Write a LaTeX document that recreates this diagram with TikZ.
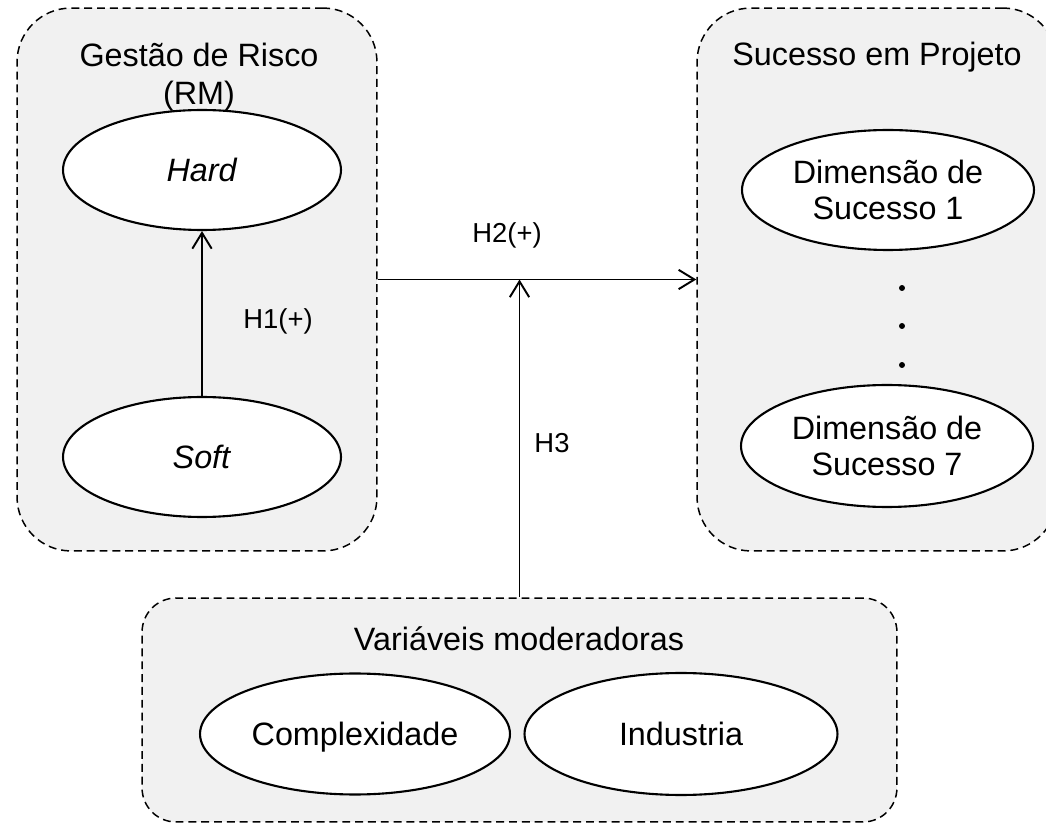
\documentclass[tikz,border=0pt]{standalone}
\usepackage{fontspec}
\setmainfont{Liberation Sans}
\usetikzlibrary{shapes.geometric,arrows.meta}
\definecolor{boxgray}{RGB}{241,241,241}

\begin{document}
\begin{tikzpicture}[x=0.02cm, y=0.02cm]
\tikzstyle{every node}+=[inner sep=0pt]
\tikzstyle{grupo}=[draw, dash pattern=on 4.5pt off 2.8pt, line width=0.85pt, fill=boxgray, rounded corners=1.08cm]
\tikzstyle{construto}=[draw, ellipse, fill=white, line width=1.2pt, font=\fontsize{18.4}{20}\selectfont, align=center]
\tikzstyle{titulo}=[font=\fontsize{18.4}{20}\selectfont, align=center]
\tikzstyle{hip}=[font=\fontsize{15.6}{18}\selectfont]
\tikzstyle{seta}=[line width=1.1pt, -{Straight Barb[length=9pt,width=11pt]}]
\useasboundingbox (0,0) rectangle (1046,-824);
\clip (0,0) rectangle (1046,-824);
% grupos
\node [grupo, minimum width=7.2cm, minimum height=10.86cm] (rm) at (197,-279.5) {};
\node [grupo, minimum width=7.2cm, minimum height=10.86cm] (sucesso) at (877,-279.5) {};
\node [grupo, minimum width=15.1cm, minimum height=4.48cm, rounded corners=0.68cm] (moder) at (519.5,-710) {};
\node [titulo, font=\fontsize{18.4}{21.5}\selectfont] (trm) at (199,-77.5) {Gestão de Risco\\(RM)};
\node [titulo] (tsucesso) at (877,-57) {Sucesso em Projeto};
\node [titulo] (tmoder) at (519,-639) {Variáveis moderadoras};
% construtos
\node [construto, minimum width=5.56cm, minimum height=2.4cm] (hard) at (202,-170) {\textit{Hard}};
\node [construto, minimum width=5.56cm, minimum height=2.4cm] (soft) at (202,-457) {\textit{Soft}};
\node [construto, minimum width=5.84cm, minimum height=2.4cm] (dim1) at (888,-190) {Dimensão de\\Sucesso 1};
\node [construto, minimum width=5.84cm, minimum height=2.44cm] (dim7) at (887,-446) {Dimensão de\\Sucesso 7};
\node [construto, text height=13pt, text depth=0pt, minimum width=6.2cm, minimum height=2.42cm] (compl) at (355,-734) {Complexidade};
\node [construto, text height=13pt, text depth=0pt, minimum width=6.26cm, minimum height=2.44cm] (ind) at (681,-734) {Industria};
\fill (902,-288) circle (1.7pt);
\fill (902,-326) circle (1.7pt);
\fill (902,-365) circle (1.7pt);
% hipoteses
\draw [seta] (soft) -- (hard);
\draw [seta] (rm.east) -- (sucesso.west);
\draw [seta] (moder.north) -- (moder.north |- rm.east);
\node [hip] (h1) at (278,-321) {H1(+)};
\node [hip] (h2) at (507,-235) {H2(+)};
\node [hip] (h3) at (552,-443) {H3};
\end{tikzpicture}
\end{document}
